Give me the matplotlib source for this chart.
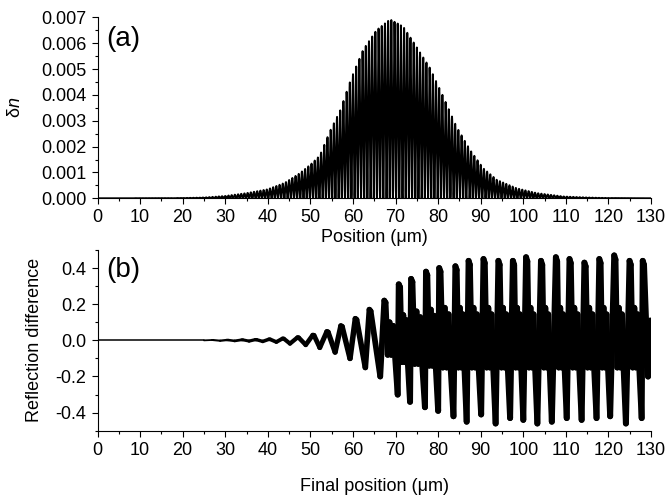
import numpy as np
import matplotlib
matplotlib.use("Agg")
import matplotlib.pyplot as plt
from matplotlib.ticker import MultipleLocator
from matplotlib.collections import LineCollection

plt.rcParams["font.family"] = ["Liberation Sans", "DejaVu Sans"]
plt.rcParams["mathtext.fontset"] = "custom"
plt.rcParams["mathtext.rm"] = "Liberation Sans"
plt.rcParams["mathtext.it"] = "Liberation Sans:italic"

# (a) index modulation envelope
env_x = [0, 20, 25, 30, 35, 40, 44, 47.5, 50, 52.2, 54.6, 57, 59.5, 62.4, 65.5,
         68.7, 71.8, 74.9, 78.1, 81.2, 84.3, 87.5, 90.6, 93.8, 98.4, 103.2,
         109.4, 115, 120, 130]
env_y = [0, 0.01, 0.03, 0.09, 0.2, 0.35, 0.6, 0.97, 1.3, 1.65, 2.6, 3.4, 4.6,
         5.75, 6.5, 6.92, 6.64, 5.86, 5.03, 3.93, 2.77, 1.87, 1.16, 0.71, 0.39,
         0.2, 0.07, 0.03, 0.01, 0]
env_y = [v * 1e-3 for v in env_y]
grating_period = 0.75  # um

# (b) reflection difference: extremes
peak_x = [27.0, 30.5, 34.0, 37.2, 40.4, 43.6, 47.1, 50.7, 54.0, 57.3, 60.7,
          64.0, 67.5, 70.9, 73.8, 77.3, 80.4, 84.2, 87.3, 90.8, 94.3, 97.7,
          100.8, 104.3, 107.8, 111.0, 114.5, 118.0, 121.5, 125.1, 128.2]
peak_y = [0.002, 0.002, 0.003, 0.004, 0.006, 0.010, 0.016, 0.029, 0.048, 0.08,
          0.12, 0.17, 0.22, 0.31, 0.34, 0.38, 0.40, 0.41, 0.44, 0.45, 0.44,
          0.44, 0.46, 0.44, 0.46, 0.45, 0.43, 0.45, 0.47, 0.44, 0.44]
trough_x = [28.8, 32.2, 35.6, 38.8, 42.0, 45.2, 48.9, 52.2, 55.8, 59.3, 62.9,
            66.4, 70.5, 73.4, 76.9, 80.0, 83.6, 86.7, 90.1, 93.5, 96.9, 100.0,
            103.3, 106.7, 110.2, 113.7, 117.2, 120.4, 124.1, 127.8, 129.3]
trough_y = [-0.002, -0.003, -0.004, -0.006, -0.009, -0.018, -0.025, -0.040,
            -0.065, -0.10, -0.15, -0.20, -0.30, -0.34, -0.37, -0.39, -0.42,
            -0.45, -0.41, -0.46, -0.43, -0.44, -0.46, -0.45, -0.43, -0.44,
            -0.43, -0.42, -0.46, -0.43, -0.20]
# mid-level wiggles between a peak and the next trough
shoulder_lo = [0, 0, 0, 0, 0, 0, 0, 0, 0, 0, 0, 0, -0.08, -0.12, -0.13,
               -0.14, -0.15, -0.15, -0.15, -0.15, -0.15, -0.15, -0.15, -0.15,
               -0.15, -0.15, -0.15, -0.15, -0.15, -0.15, 0]
shoulder_hi = [0, 0, 0, 0, 0, 0, 0, 0, 0, 0, 0, 0, 0.10, 0.14, 0.16, 0.17,
               0.18, 0.18, 0.18, 0.18, 0.18, 0.18, 0.18, 0.18, 0.18, 0.18,
               0.18, 0.18, 0.18, 0.18, 0]

# build (a) trace
xa = np.linspace(0, 130, 40000)
env = np.interp(xa, env_x, env_y)
dn = env * 0.5 * (1 + np.cos(2 * np.pi * xa / grating_period))

# build (b) trace
xb = [0.0, 25.0]
yb = [0.0, 0.0]
for i in range(len(peak_x)):
    xb += [peak_x[i] - 0.15, peak_x[i] + 0.15]
    yb += [peak_y[i], peak_y[i] * 0.95]
    gap = trough_x[i] - peak_x[i]
    if shoulder_hi[i] != 0 and gap > 2:
        lo, hi = shoulder_lo[i], shoulder_hi[i]
        xb += [peak_x[i] + f * gap for f in (0.22, 0.36, 0.5, 0.64, 0.78)]
        yb += [lo, hi, lo, hi * 0.8, lo * 0.9]
    xb.append(trough_x[i]); yb.append(trough_y[i])
xb.append(129.8); yb.append(0.11)

# trace gets thicker as the fast ripple grows
width_x = [0, 25, 35, 45, 55, 70, 130]
width_lw = [1.0, 1.2, 2.2, 3.0, 3.8, 4.3, 4.3]
pts = np.column_stack([xb, yb])
segs = np.stack([pts[:-1], pts[1:]], axis=1)
seg_lw = np.interp((pts[:-1, 0] + pts[1:, 0]) / 2, width_x, width_lw)

fig = plt.figure(figsize=(6.68, 4.95), dpi=100)
ax1 = fig.add_axes([0.146, 0.5994, 0.8286, 0.3656])
ax2 = fig.add_axes([0.146, 0.1299, 0.8286, 0.365])

ax1.plot(xa, dn, color="black", lw=1.4)
ax2.add_collection(LineCollection(segs, colors="black", linewidths=seg_lw,
                                  capstyle="round"))

for ax in (ax1, ax2):
    ax.spines["top"].set_visible(False)
    ax.spines["right"].set_visible(False)
    ax.set_xlim(0, 130)
    ax.xaxis.set_major_locator(MultipleLocator(10))
    ax.xaxis.set_minor_locator(MultipleLocator(5))
    ax.tick_params(which="major", direction="out", length=4.5, width=0.8,
                   labelsize=13)
    ax.tick_params(which="minor", direction="out", length=2.5, width=0.8)
    for s in ("left", "bottom"):
        ax.spines[s].set_linewidth(0.8)

ax1.set_ylim(0, 0.007)
ax1.yaxis.set_major_locator(MultipleLocator(0.001))
ax1.yaxis.set_minor_locator(MultipleLocator(0.0005))
ax1.yaxis.set_major_formatter(plt.FormatStrFormatter("%.3f"))
ax1.set_xlabel("Position (\u03bcm)", fontsize=13, labelpad=2)
ax1.set_ylabel("\u03b4$n$", fontsize=13, labelpad=12)
ax1.text(0.016, 0.88, "(a)", transform=ax1.transAxes, fontsize=20,
         va="center")

ax2.set_ylim(-0.5, 0.5)
ax2.yaxis.set_major_locator(MultipleLocator(0.2))
ax2.yaxis.set_minor_locator(MultipleLocator(0.1))
ax2.yaxis.set_major_formatter(plt.FormatStrFormatter("%.1f"))
ax2.set_xlabel("Final position (\u03bcm)", fontsize=13, labelpad=14)
ax2.set_ylabel("Reflection difference", fontsize=13, labelpad=9)
ax2.text(0.016, 0.89, "(b)", transform=ax2.transAxes, fontsize=20,
         va="center")

fig.savefig("out.png", dpi=100)
